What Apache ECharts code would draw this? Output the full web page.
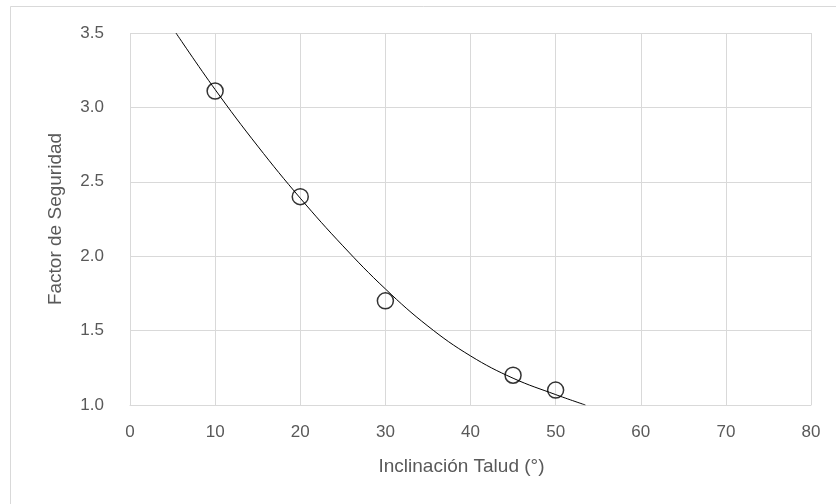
<!DOCTYPE html>
<html>
<head>
<meta charset="utf-8">
<script src="https://cdn.jsdelivr.net/npm/echarts@6/dist/echarts.min.js"></script>
<style>
html,body{margin:0;padding:0;background:#fff;}
#chart{width:836px;height:504px;}
</style>
</head>
<body>
<div id="chart"></div>
<script>
// Measured points
var inclinacion = [10, 20, 30, 45, 50];
var factorSeguridad = [3.11, 2.40, 1.70, 1.20, 1.10];
// Trendline
var trendX = [5.4, 10, 15, 20, 25, 30, 35, 40, 45, 50, 53.5];
var trendY = [3.50, 3.12, 2.74, 2.39, 2.07, 1.78, 1.53, 1.33, 1.18, 1.07, 1.00];
// Axis ticks
var xTicks = [0, 10, 20, 30, 40, 50, 60, 70, 80];
var yTicks = [1.0, 1.5, 2.0, 2.5, 3.0, 3.5];

var FONT = '"Liberation Sans", "DejaVu Sans", sans-serif';
var TXT = '#595959';
var GRID = '#d9d9d9';

var chart = echarts.init(document.getElementById('chart'), null, {renderer: 'canvas'});
chart.setOption({
  backgroundColor: '#ffffff',
  animation: false,
  graphic: [{
    type: 'rect',
    shape: {x: 10.5, y: 6.5, width: 900, height: 600},
    style: {fill: 'none', stroke: GRID, lineWidth: 1},
    silent: true, z: -1
  }],
  grid: {left: 130, right: 25, top: 33, bottom: 99, containLabel: false},
  xAxis: {
    type: 'value',
    min: xTicks[0], max: xTicks[xTicks.length - 1], interval: 10,
    name: 'Inclinación Talud (°)',
    nameLocation: 'middle', nameGap: 52,
    nameTextStyle: {color: TXT, fontFamily: FONT, fontSize: 19, padding: [0, 18, 0, 0]},
    axisLine: {show: true, lineStyle: {color: GRID, width: 1}},
    axisTick: {show: false},
    axisLabel: {color: TXT, fontFamily: FONT, fontSize: 17, margin: 19},
    splitLine: {show: true, lineStyle: {color: GRID, width: 1}}
  },
  yAxis: {
    type: 'value',
    min: yTicks[0], max: yTicks[yTicks.length - 1], interval: 0.5,
    name: 'Factor de Seguridad',
    nameLocation: 'middle', nameGap: 65,
    nameTextStyle: {color: TXT, fontFamily: FONT, fontSize: 19},
    axisLine: {show: false},
    axisTick: {show: false},
    axisLabel: {color: TXT, fontFamily: FONT, fontSize: 17, margin: 26,
      formatter: function (v) { return v.toFixed(1); }},
    splitLine: {show: true, lineStyle: {color: GRID, width: 1}}
  },
  series: [
    {
      type: 'line',
      data: trendX.map(function (x, i) { return [x, trendY[i]]; }),
      smooth: 0.4,
      showSymbol: false,
      symbol: 'none',
      lineStyle: {color: '#000', width: 1},
      z: 2
    },
    {
      type: 'scatter',
      data: inclinacion.map(function (x, i) { return [x, factorSeguridad[i]]; }),
      symbol: 'circle',
      symbolSize: 16,
      itemStyle: {color: 'rgba(0,0,0,0)', borderColor: '#000', borderWidth: 1.5},
      z: 3
    }
  ]
});
</script>
</body>
</html>
